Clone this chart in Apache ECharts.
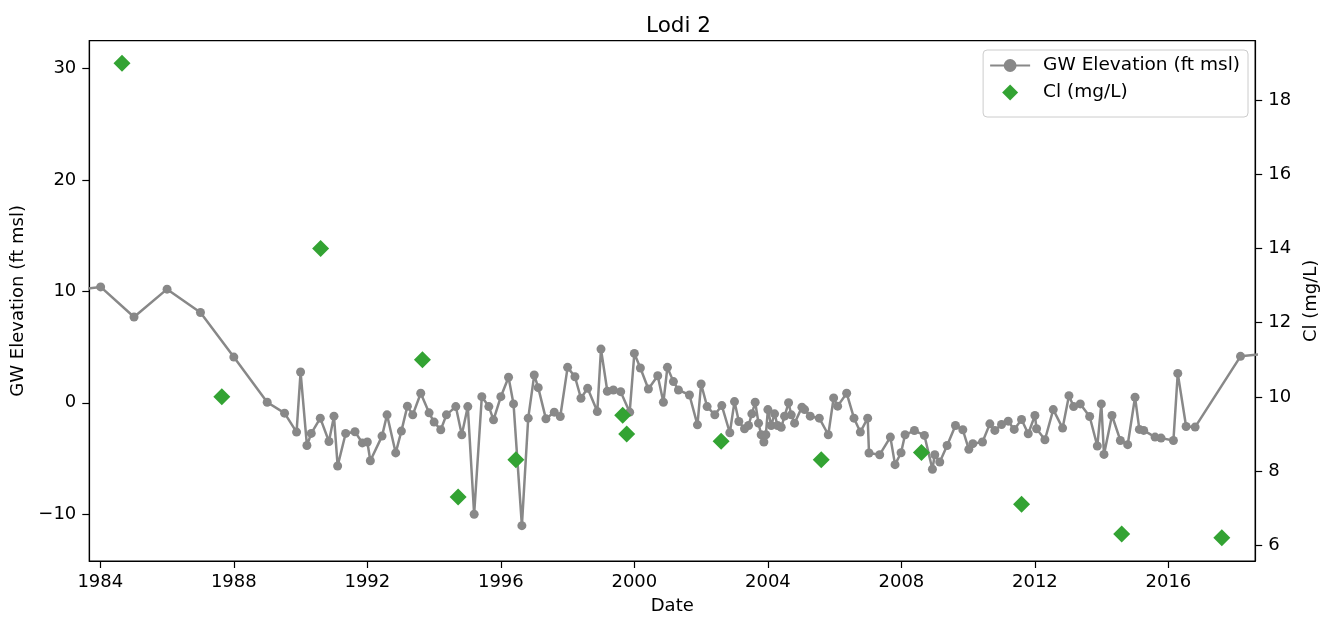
<!DOCTYPE html>
<html>
<head>
<meta charset="utf-8">
<script src="https://cdn.jsdelivr.net/npm/echarts@6/dist/echarts.min.js"></script>
<style>html,body{margin:0;padding:0;background:#fff}#c{width:1328px;height:620px}</style>
</head>
<body>
<div id="c"></div>
<script>
// Decimal-year dates of groundwater elevation readings
const gwDates = [1983.0,1984.01,1985.01,1986.0,1987.0,1988.0,1989.0,1989.52,1989.88,1990.0,1990.19,1990.32,1990.59,1990.85,1991.0,1991.11,1991.35,1991.63,1991.85,1992.0,1992.09,1992.44,1992.59,1992.85,1993.02,1993.2,1993.36,1993.6,1993.85,1994.0,1994.2,1994.37,1994.65,1994.83,1995.01,1995.2,1995.43,1995.64,1995.78,1996.0,1996.23,1996.38,1996.63,1996.82,1997.0,1997.12,1997.35,1997.6,1997.78,1998.0,1998.22,1998.4,1998.6,1998.89,1999.0,1999.19,1999.37,1999.59,1999.86,2000.0,2000.18,2000.42,2000.7,2000.87,2000.99,2001.17,2001.32,2001.65,2001.89,2002.0,2002.18,2002.41,2002.62,2002.86,2003.0,2003.13,2003.3,2003.42,2003.52,2003.62,2003.72,2003.8,2003.88,2003.94,2004.0,2004.1,2004.2,2004.29,2004.4,2004.5,2004.62,2004.7,2004.8,2005.02,2005.1,2005.27,2005.54,2005.81,2005.97,2006.09,2006.36,2006.58,2006.77,2006.99,2007.03,2007.35,2007.67,2007.81,2007.99,2008.11,2008.39,2008.69,2008.93,2009.0,2009.15,2009.37,2009.62,2009.84,2010.02,2010.14,2010.43,2010.65,2010.8,2011.0,2011.2,2011.38,2011.6,2011.8,2012.0,2012.05,2012.3,2012.55,2012.83,2013.02,2013.16,2013.36,2013.64,2013.87,2013.99,2014.07,2014.31,2014.56,2014.78,2015.0,2015.13,2015.26,2015.6,2015.78,2016.15,2016.28,2016.53,2016.8,2018.16,2019.0];
const gwValues = [10.0,10.4,7.7,10.2,8.1,4.1,0.05,-0.93,-2.63,2.76,-3.83,-2.75,-1.38,-3.47,-1.2,-5.67,-2.75,-2.6,-3.6,-3.52,-5.2,-2.99,-1.08,-4.5,-2.54,-0.3,-1.08,0.86,-0.9,-1.73,-2.42,-1.08,-0.34,-2.87,-0.34,-10.0,0.55,-0.34,-1.53,0.55,2.29,-0.1,-11.03,-1.38,2.49,1.36,-1.44,-0.84,-1.23,3.18,2.34,0.41,1.3,-0.79,4.82,1.04,1.15,1.0,-0.84,4.43,3.12,1.24,2.43,0.05,3.18,1.9,1.15,0.7,-1.98,1.69,-0.34,-1.08,-0.25,-2.69,0.11,-1.68,-2.33,-2.04,-0.99,0.05,-1.83,-2.87,-3.52,-2.87,-0.61,-2.04,-0.99,-2.04,-2.2,-1.2,0.0,-1.08,-1.83,-0.39,-0.61,-1.2,-1.38,-2.87,0.44,-0.3,0.86,-1.38,-2.63,-1.38,-4.51,-4.66,-3.08,-5.55,-4.48,-2.87,-2.49,-2.93,-5.97,-4.66,-5.31,-3.83,-2.04,-2.42,-4.18,-3.67,-3.52,-1.89,-2.48,-1.95,-1.65,-2.39,-1.5,-2.78,-1.14,-2.33,-3.32,-0.61,-2.27,0.64,-0.34,-0.1,-1.23,-3.88,-0.1,-4.63,-1.14,-3.38,-3.76,0.5,-2.39,-2.48,-3.08,-3.17,-3.38,2.64,-2.13,-2.18,4.17,4.45];

// Chloride samples
const clDates = [1984.65,1987.64,1990.6,1993.65,1994.72,1996.45,1999.65,1999.77,2002.6,2005.6,2008.6,2011.6,2014.6,2017.6];
const clValues = [19.0,10.0,14.0,11.0,7.3,8.3,9.5,9.0,8.8,8.3,8.5,7.1,6.3,6.2];

// Tick labels
const xTicks = [1984,1988,1992,1996,2000,2004,2008,2012,2016];
const yLeftTicks = [-10,0,10,20,30];
const yRightTicks = [6,8,10,12,14,16,18];

const gwData = gwDates.map((d,i)=>[d,gwValues[i]]);
const clData = clDates.map((d,i)=>[d,clValues[i]]);

const FONT = 'DejaVu Sans';
const FS = 18;
const minus = v => String(v).replace('-', '\u2212');

const chart = echarts.init(document.getElementById('c'), null, {renderer:'canvas'});
chart.setOption({
  animation:false,
  backgroundColor:'#fff',
  textStyle:{fontFamily:FONT,color:'#000'},
  title:{text:'Lodi 2',left:673.5,top:10,textAlign:'center',
    textStyle:{fontFamily:FONT,fontSize:21.5,fontWeight:'normal',color:'#000'}},
  grid:{left:89.3,right:70.3,top:40.7,bottom:57.3,show:true,borderColor:'#000',borderWidth:1.2,backgroundColor:'transparent'},
  legend:{
    orient:'vertical',right:80,top:50,
    padding:[6,8,15,6],itemGap:8,itemWidth:40,itemHeight:16,
    borderColor:'#cccccc',borderWidth:1,borderRadius:4,backgroundColor:'rgba(255,255,255,0.8)',
    textStyle:{fontFamily:FONT,fontSize:18.5,color:'#000',padding:[0,0,0,8]},
    data:[{name:'GW Elevation (ft msl)'},{name:'Cl (mg/L)',icon:'path://M5,0L10,5L5,10L0,5Z'}]
  },
  xAxis:{
    type:'value',min:1983.67,max:2018.6,
    name:'Date',nameLocation:'middle',nameGap:36,
    nameTextStyle:{fontFamily:FONT,fontSize:FS,color:'#000'},
    axisLine:{show:true,onZero:false,lineStyle:{color:'#000',width:1.2}},
    axisTick:{show:true,length:7,inside:false,customValues:xTicks,lineStyle:{color:'#000',width:1.2}},
    axisLabel:{customValues:xTicks,margin:12,fontFamily:FONT,fontSize:FS,color:'#000',formatter:v=>String(Math.round(v))},
    splitLine:{show:false}
  },
  yAxis:[{
    type:'value',min:-14.2,max:32.5,position:'left',
    name:'GW Elevation (ft msl)',nameLocation:'middle',nameGap:62,nameRotate:90,
    nameTextStyle:{fontFamily:FONT,fontSize:FS,color:'#000'},
    axisLine:{show:true,onZero:false,lineStyle:{color:'#000',width:1.2}},
    axisTick:{show:true,length:7,customValues:yLeftTicks,lineStyle:{color:'#000',width:1.2}},
    axisLabel:{customValues:yLeftTicks,margin:13,fontFamily:FONT,fontSize:FS,color:'#000',formatter:v=>minus(Math.round(v))},
    splitLine:{show:false}
  },{
    type:'value',min:5.57,max:19.61,position:'right',
    name:'Cl (mg/L)',nameLocation:'middle',nameGap:43,nameRotate:90,
    nameTextStyle:{fontFamily:FONT,fontSize:FS,color:'#000'},
    axisLine:{show:true,onZero:false,lineStyle:{color:'#000',width:1.2}},
    axisTick:{show:true,length:7,customValues:yRightTicks,lineStyle:{color:'#000',width:1.2}},
    axisLabel:{customValues:yRightTicks,margin:13,fontFamily:FONT,fontSize:FS,color:'#000',formatter:v=>String(Math.round(v))},
    splitLine:{show:false}
  }],
  series:[{
    name:'GW Elevation (ft msl)',type:'line',yAxisIndex:0,data:gwData,
    symbol:'circle',symbolSize:9,showAllSymbol:true,clip:true,
    lineStyle:{color:'#888888',width:2.5},
    itemStyle:{color:'#888888',opacity:1},
    z:2
  },{
    name:'Cl (mg/L)',type:'scatter',yAxisIndex:1,data:clData,
    symbol:'diamond',symbolSize:[17,17],clip:true,
    itemStyle:{color:'#33a333',opacity:1},
    z:3
  }]
});
</script>
</body>
</html>
